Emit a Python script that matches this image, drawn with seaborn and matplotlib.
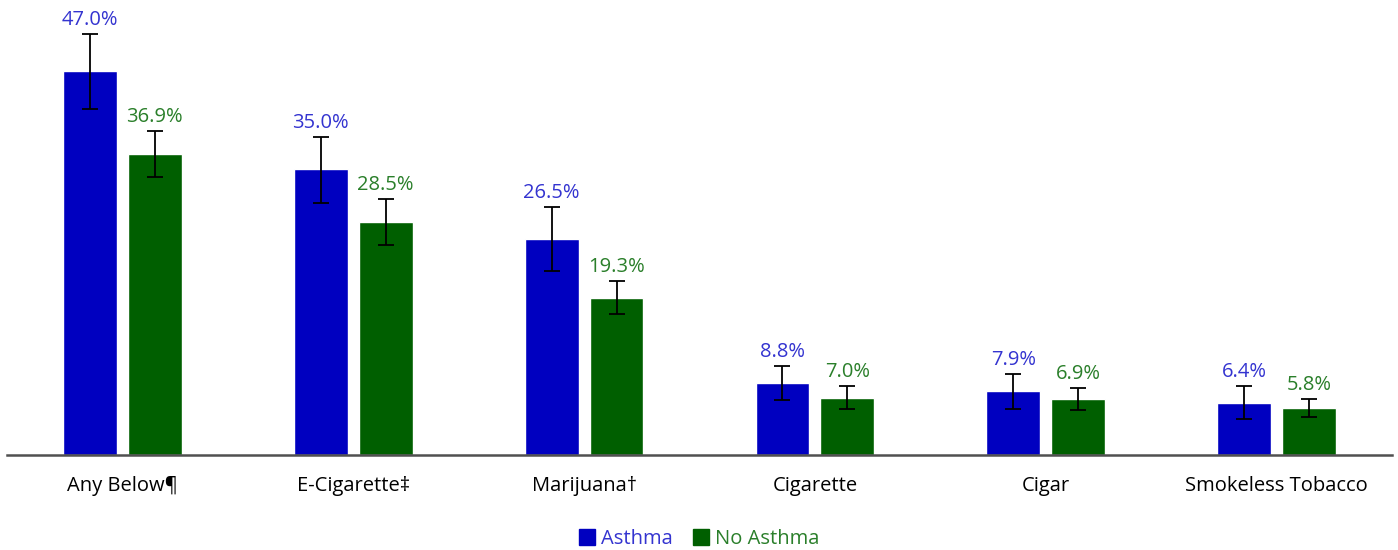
import numpy as np
import pandas as pd
import matplotlib
matplotlib.use('Agg')
import matplotlib.pyplot as plt
import seaborn as sns

categories = ['Any Below¶', 'E-Cigarette‡', 'Marijuana†', 'Cigarette', 'Cigar', 'Smokeless Tobacco']
groups = ['Asthma', 'No Asthma']
asthma = [47.0, 35.0, 26.5, 8.8, 7.9, 6.4]
asthma_lo = [42.4, 30.9, 22.5, 6.7, 5.7, 4.4]
asthma_hi = [51.6, 39.0, 30.4, 10.9, 9.9, 8.4]
no_asthma = [36.9, 28.5, 19.3, 7.0, 6.9, 5.8]
no_asthma_lo = [34.1, 25.7, 17.3, 5.7, 5.5, 4.7]
no_asthma_hi = [39.7, 31.4, 21.3, 8.4, 8.2, 6.9]

bar_colors = {'Asthma': '#0000C0', 'No Asthma': '#005F00'}
text_colors = {'Asthma': '#3434D0', 'No Asthma': '#2A7F2A'}

df = pd.DataFrame({
    'category': categories * 2,
    'group': [groups[0]] * len(categories) + [groups[1]] * len(categories),
    'value': asthma + no_asthma,
    'lo': asthma_lo + no_asthma_lo,
    'hi': asthma_hi + no_asthma_hi,
})

sns.set_style('white')
plt.rcParams['font.family'] = ['Open Sans', 'DejaVu Sans']

fig = plt.figure(figsize=(13.98, 5.5), dpi=100)
ax = fig.add_axes([0.005, 0.1727, 0.9907, 0.816])

sns.barplot(data=df, x='category', y='value', hue='group', order=categories,
            hue_order=groups, palette=bar_colors, width=0.562, gap=0.17,
            errorbar=None, saturation=1, legend=False, ax=ax)

# error bars + labels, positioned from the drawn bars
for container, g in zip(ax.containers, groups):
    sub = df[df['group'] == g].set_index('category').loc[categories]
    for patch, (_, row) in zip(container.patches, sub.iterrows()):
        xc = patch.get_x() + patch.get_width() / 2
        ax.errorbar(xc, row['value'],
                    yerr=[[row['value'] - row['lo']], [row['hi'] - row['value']]],
                    fmt='none', ecolor='black', elinewidth=1.3, capsize=6, capthick=1.3)
        ax.annotate(f"{row['value']:.1f}%", (xc, row['hi']), xytext=(0, 3),
                    textcoords='offset points', ha='center', va='bottom',
                    color=text_colors[g], fontsize=14.5)

ax.set_ylim(0, 55)
ax.set_xlim(-0.5, len(categories) - 0.5)
ax.set_xlabel('')
ax.set_ylabel('')
ax.set_yticks([])
for s in ['top', 'right', 'left']:
    ax.spines[s].set_visible(False)
ax.spines['bottom'].set_color('#505050')
ax.spines['bottom'].set_linewidth(1.8)
ax.tick_params(axis='x', length=0, pad=15, labelsize=14.5, colors='black')

handles = [plt.Rectangle((0, 0), 1, 1, color=bar_colors[g]) for g in groups]
leg = fig.legend(handles, groups, loc='center', bbox_to_anchor=(0.5, 0.02),
                 ncol=2, frameon=False, fontsize=14.5, handlelength=0.8,
                 handleheight=0.8, handletextpad=0.3, columnspacing=1.0)
for t, g in zip(leg.get_texts(), groups):
    t.set_color(text_colors[g])

fig.savefig('out.png', dpi=100)
